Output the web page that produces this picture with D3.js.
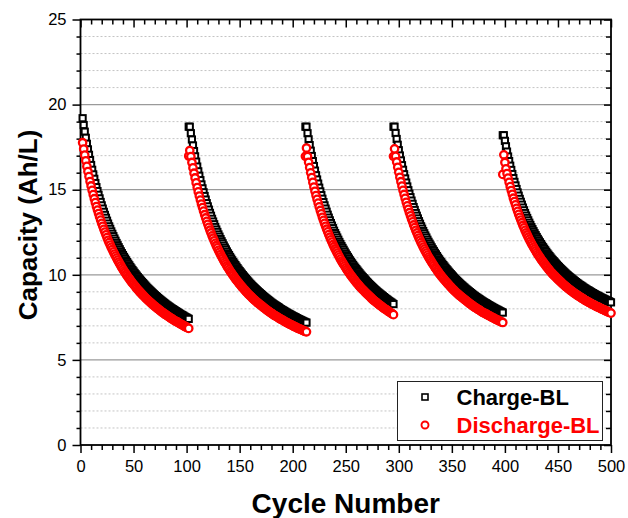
<!DOCTYPE html>
<html><head><meta charset="utf-8">
<script src="https://cdn.jsdelivr.net/npm/d3@7"></script>
<style>
html,body{margin:0;padding:0;background:#fff;}
svg{display:block;font-family:"Liberation Sans",Arial,sans-serif;}
</style></head>
<body><svg id="chart" width="628" height="518"></svg>
<script>
// ---- Data (one value per cycle) ----
const xTicks = [0,50,100,150,200,250,300,350,400,450,500];
const yTicks = [0,5,10,15,20,25];
const seriesNames = ["Charge-BL","Discharge-BL"];

// first cycle number of each of the five segments
const segStartCycles = [2, 102, 212, 295, 398];

const seg1Charge = [19.20,18.80,18.41,18.05,17.70,17.37,17.05,16.74,16.45,16.17,
15.90,15.64,15.39,15.15,14.92,14.70,14.49,14.28,14.08,13.89,13.70,13.52,13.35,13.18,13.01,12.85,12.70,12.55,12.41,12.27,
12.13,12.00,11.87,11.74,11.62,11.50,11.38,11.27,11.16,11.05,10.95,10.85,10.75,10.65,10.56,10.46,10.37,10.28,10.20,10.11,
10.03,9.95,9.87,9.79,9.72,9.65,9.58,9.51,9.44,9.37,9.30,9.23,9.17,9.11,9.05,8.99,8.93,8.87,8.81,8.75,
8.70,8.64,8.59,8.54,8.49,8.44,8.39,8.34,8.29,8.24,8.20,8.15,8.11,8.06,8.02,7.98,7.94,7.90,7.86,7.82,
7.78,7.74,7.70,7.66,7.63,7.59,7.55,7.51,7.48,7.44,7.41];
const seg1Discharge = [17.76,17.39,17.03,16.70,16.37,16.07,15.77,15.48,15.22,14.96,
14.71,14.47,14.24,14.01,13.80,13.60,13.40,13.21,13.02,12.85,12.67,12.51,12.35,12.19,12.03,11.89,11.75,11.61,11.48,11.35,
11.22,11.10,10.98,10.86,10.75,10.64,10.53,10.42,10.32,10.22,10.13,10.03,9.94,9.85,9.77,9.68,9.59,9.51,9.44,9.36,
9.28,9.20,9.13,9.06,8.99,8.92,8.86,8.79,8.73,8.66,8.60,8.54,8.48,8.42,8.37,8.31,8.26,8.20,8.15,8.10,
8.05,8.00,7.95,7.90,7.85,7.80,7.76,7.71,7.67,7.63,7.59,7.54,7.50,7.46,7.42,7.38,7.34,7.30,7.27,7.23,
7.20,7.16,7.12,7.09,7.06,7.02,6.98,6.95,6.92,6.88,6.85];

const seg2Charge = [18.70,
18.70,18.32,17.95,17.60,17.27,16.96,16.65,16.36,16.08,15.82,
15.56,15.31,15.08,14.85,14.63,14.42,14.21,14.02,13.83,13.64,13.47,13.29,13.13,12.97,12.81,12.66,12.52,12.37,12.24,12.10,
11.97,11.85,11.72,11.60,11.49,11.37,11.26,11.16,11.05,10.95,10.85,10.75,10.66,10.57,10.48,10.39,10.30,10.22,10.14,10.06,
9.98,9.90,9.83,9.75,9.68,9.61,9.54,9.47,9.41,9.34,9.28,9.22,9.16,9.10,9.04,8.98,8.93,8.87,8.82,8.76,
8.71,8.66,8.61,8.56,8.51,8.46,8.41,8.36,8.32,8.27,8.23,8.19,8.15,8.11,8.07,8.02,7.98,7.94,7.91,7.87,
7.83,7.79,7.76,7.72,7.69,7.65,7.62,7.58,7.55,7.52,7.49,7.45,7.42,7.39,7.36,7.33,7.30,7.27,7.24,7.21,7.19];
const seg2Discharge = [16.98,
17.30,16.95,16.60,16.28,15.97,15.69,15.40,15.13,14.87,14.63,
14.39,14.16,13.95,13.74,13.53,13.34,13.14,12.97,12.79,12.62,12.46,12.29,12.15,12.00,11.85,11.71,11.58,11.44,11.32,11.19,
11.07,10.96,10.84,10.73,10.63,10.52,10.42,10.32,10.22,10.13,10.04,9.95,9.86,9.77,9.69,9.61,9.53,9.45,9.38,9.30,
9.23,9.16,9.09,9.02,8.95,8.88,8.82,8.76,8.70,8.64,8.58,8.52,8.47,8.41,8.36,8.31,8.26,8.21,8.16,8.11,
8.06,8.01,7.96,7.91,7.87,7.82,7.78,7.74,7.70,7.65,7.61,7.57,7.54,7.50,7.46,7.42,7.38,7.35,7.32,7.28,
7.24,7.21,7.18,7.14,7.11,7.08,7.05,7.01,6.98,6.95,6.93,6.89,6.86,6.83,6.81,6.78,6.75,6.72,6.70,6.67,6.65];

const seg3Charge = [18.70,
18.70,18.32,17.96,17.62,17.29,16.98,16.68,16.39,16.12,15.85,
15.60,15.36,15.12,14.90,14.68,14.47,14.27,14.08,13.89,13.71,13.53,13.36,13.20,13.04,12.89,12.74,12.59,12.45,12.32,12.19,
12.06,11.93,11.81,11.69,11.58,11.47,11.36,11.25,11.15,11.05,10.95,10.85,10.76,10.67,10.58,10.49,10.41,10.33,10.25,10.17,
10.09,10.01,9.94,9.87,9.80,9.73,9.66,9.59,9.53,9.46,9.40,9.34,9.28,9.22,9.16,9.10,9.05,8.99,8.94,8.89,
8.84,8.79,8.74,8.69,8.64,8.59,8.55,8.50,8.45,8.41,8.37,8.32,8.28];
const seg3Discharge = [16.96,
17.45,16.95,16.61,16.30,15.99,15.71,15.43,15.16,14.91,14.66,
14.43,14.21,13.99,13.78,13.58,13.38,13.20,13.02,12.85,12.68,12.52,12.36,12.21,12.06,11.92,11.78,11.65,11.52,11.40,11.28,
11.16,11.04,10.92,10.81,10.71,10.61,10.51,10.41,10.31,10.22,10.13,10.04,9.95,9.87,9.79,9.71,9.63,9.55,9.48,9.40,
9.33,9.26,9.19,9.13,9.07,9.00,8.94,8.88,8.82,8.76,8.70,8.64,8.58,8.52,8.47,8.42,8.37,8.32,8.27,8.22,
8.18,8.13,8.08,8.03,7.99,7.95,7.91,7.86,7.82,7.78,7.74,7.70,7.66];

const seg4Charge = [18.70,
18.70,18.33,17.98,17.64,17.32,17.01,16.72,16.44,16.17,15.91,
15.66,15.42,15.19,14.97,14.76,14.56,14.36,14.17,13.98,13.81,13.63,13.47,13.31,13.15,13.00,12.85,12.71,12.57,12.44,12.31,
12.19,12.06,11.94,11.83,11.72,11.61,11.50,11.40,11.29,11.20,11.10,11.00,10.91,10.82,10.74,10.65,10.57,10.49,10.41,10.33,
10.26,10.18,10.11,10.04,9.97,9.90,9.83,9.76,9.70,9.64,9.58,9.52,9.46,9.40,9.35,9.29,9.24,9.18,9.13,9.08,
9.03,8.98,8.93,8.88,8.83,8.78,8.74,8.69,8.65,8.61,8.57,8.52,8.48,8.44,8.40,8.36,8.33,8.29,8.25,8.21,
8.18,8.14,8.11,8.07,8.04,8.00,7.97,7.94,7.91,7.87,7.84,7.81,7.78];
const seg4Discharge = [16.96,
17.40,16.96,16.63,16.32,16.02,15.73,15.47,15.21,14.96,14.72,
14.49,14.26,14.05,13.85,13.65,13.47,13.28,13.11,12.93,12.77,12.61,12.46,12.31,12.16,12.03,11.89,11.76,11.63,11.51,11.39,
11.28,11.16,11.04,10.94,10.84,10.74,10.64,10.55,10.44,10.36,10.27,10.18,10.09,10.01,9.93,9.85,9.78,9.70,9.63,9.56,
9.49,9.42,9.35,9.28,9.22,9.15,9.09,9.03,8.97,8.91,8.86,8.80,8.75,8.70,8.65,8.60,8.55,8.50,8.45,8.40,
8.35,8.30,8.26,8.21,8.17,8.12,8.08,8.04,8.00,7.96,7.93,7.88,7.84,7.80,7.77,7.74,7.71,7.67,7.63,7.60,
7.57,7.53,7.50,7.47,7.44,7.40,7.37,7.34,7.32,7.28,7.25,7.22,7.20];

const seg5Charge = [18.20,
18.20,17.87,17.55,17.24,16.95,16.68,16.41,16.16,15.92,15.68,
15.46,15.25,15.04,14.84,14.65,14.46,14.29,14.12,13.95,13.79,13.63,13.48,13.34,13.20,13.06,12.93,12.80,12.68,12.56,12.44,
12.33,12.22,12.11,12.01,11.91,11.81,11.71,11.62,11.53,11.44,11.35,11.26,11.18,11.10,11.02,10.94,10.87,10.80,10.73,10.66,
10.59,10.52,10.46,10.39,10.33,10.27,10.21,10.15,10.09,10.03,9.98,9.92,9.87,9.82,9.77,9.72,9.67,9.62,9.57,9.52,
9.48,9.43,9.39,9.35,9.31,9.26,9.22,9.18,9.14,9.10,9.07,9.03,8.99,8.95,8.92,8.88,8.85,8.81,8.78,8.75,
8.72,8.68,8.65,8.62,8.59,8.56,8.53,8.50,8.47,8.44,8.41,8.38];
const seg5Discharge = [15.90,
17.05,16.60,16.23,15.95,15.68,15.43,15.18,14.95,14.73,14.50,
14.30,14.11,13.91,13.73,13.55,13.38,13.22,13.06,12.90,12.76,12.61,12.47,12.34,12.21,12.08,11.96,11.84,11.73,11.62,11.51,
11.41,11.30,11.20,11.11,11.02,10.92,10.83,10.75,10.67,10.58,10.50,10.42,10.34,10.27,10.19,10.12,10.05,9.99,9.93,9.86,
9.80,9.74,9.68,9.62,9.56,9.50,9.44,9.39,9.33,9.28,9.23,9.18,9.13,9.08,9.04,8.99,8.94,8.90,8.85,8.81,
8.77,8.73,8.69,8.65,8.61,8.57,8.53,8.49,8.45,8.42,8.39,8.35,8.32,8.28,8.25,8.22,8.19,8.15,8.12,8.10,
8.07,8.03,8.00,7.97,7.95,7.92,7.89,7.86,7.83,7.80,7.78,7.75];

// ---- Build point lists ----
const chargeSegs = [seg1Charge, seg2Charge, seg3Charge, seg4Charge, seg5Charge];
const dischargeSegs = [seg1Discharge, seg2Discharge, seg3Discharge, seg4Discharge, seg5Discharge];
const chargePts = [], dischargePts = [];
chargeSegs.forEach((arr, s) => arr.forEach((v, i) => chargePts.push({x: segStartCycles[s] + i, y: v})));
dischargeSegs.forEach((arr, s) => arr.forEach((v, i) => dischargePts.push({x: segStartCycles[s] + i, y: v})));

// ---- Layout ----
const svg = d3.select("#chart");
const L = 80.5, R = 611, T = 19.5, B = 445;
const x = d3.scaleLinear().domain([0, 500]).range([L, R]);
const y = d3.scaleLinear().domain([0, 25]).range([B, T]);

// Grid lines
const minorY = d3.range(1, 25).filter(v => v % 5 !== 0);
const majorY = [5, 10, 15, 20];
svg.append("g").selectAll("line").data(minorY).join("line")
  .attr("x1", L).attr("x2", R).attr("y1", d => y(d)).attr("y2", d => y(d))
  .attr("stroke", "#c4c4c4").attr("stroke-width", 1).attr("stroke-dasharray", "2,2");
svg.append("g").selectAll("line").data(majorY).join("line")
  .attr("x1", L).attr("x2", R).attr("y1", d => y(d)).attr("y2", d => y(d))
  .attr("stroke", "#9a9a9a").attr("stroke-width", 1.2);

// Axes
const minorX = d3.range(0, 501, 10).filter(v => v % 50 !== 0);
const minorYall = d3.range(0, 26, 1).filter(v => v % 5 !== 0);
function styleAxis(g) {
  g.select(".domain").remove();
  g.selectAll(".tick line").attr("stroke", "#000").attr("stroke-width", 1.5);
  g.selectAll(".tick text").attr("fill", "#000").attr("font-size", "16.5px")
    .attr("font-family", "'Liberation Sans',Arial,sans-serif");
}
svg.append("g").attr("transform", `translate(0,${B})`)
  .call(d3.axisBottom(x).tickValues(xTicks).tickSize(8).tickPadding(7).tickFormat(d3.format("d")))
  .call(styleAxis);
svg.append("g").attr("transform", `translate(0,${B})`)
  .call(d3.axisBottom(x).tickValues(minorX).tickSize(5).tickFormat(""))
  .call(styleAxis);
svg.append("g").attr("transform", `translate(${L},0)`)
  .call(d3.axisLeft(y).tickValues(yTicks).tickSize(8).tickPadding(6).tickFormat(d3.format("d")))
  .call(styleAxis);
svg.append("g").attr("transform", `translate(${L},0)`)
  .call(d3.axisLeft(y).tickValues(minorYall).tickSize(4).tickFormat(""))
  .call(styleAxis);
svg.append("g").attr("transform", `translate(0,${T})`)
  .call(d3.axisBottom(x).tickValues(xTicks).tickSize(8).tickFormat(""))
  .call(styleAxis);
svg.append("g").attr("transform", `translate(0,${T})`)
  .call(d3.axisBottom(x).tickValues(minorX).tickSize(5).tickFormat(""))
  .call(styleAxis);
svg.append("g").attr("transform", `translate(${R},0)`)
  .call(d3.axisLeft(y).tickValues(yTicks).tickSize(7).tickFormat(""))
  .call(styleAxis);
svg.append("g").attr("transform", `translate(${R},0)`)
  .call(d3.axisLeft(y).tickValues(minorYall).tickSize(5).tickFormat(""))
  .call(styleAxis);

// Frame
svg.append("rect").attr("x", L).attr("y", T).attr("width", R - L).attr("height", B - T)
  .attr("fill", "none").attr("stroke", "#000").attr("stroke-width", 1.8);

// Markers
const sq = 6.2;
svg.append("g").selectAll("rect").data(chargePts).join("rect")
  .attr("x", d => x(d.x) - sq / 2).attr("y", d => y(d.y) - sq / 2)
  .attr("width", sq).attr("height", sq)
  .attr("fill", "#fff").attr("stroke", "#000").attr("stroke-width", 2);
svg.append("g").selectAll("circle").data(dischargePts).join("circle")
  .attr("cx", d => x(d.x)).attr("cy", d => y(d.y)).attr("r", 3.7)
  .attr("fill", "#fff").attr("stroke", "#ff0000").attr("stroke-width", 2.3);

// Axis titles
svg.append("text").attr("x", (L + R) / 2).attr("y", 513)
  .attr("text-anchor", "middle").attr("font-size", "28px").attr("font-weight", "bold")
  .text("Cycle Number");
svg.append("text").attr("transform", "translate(37,225) rotate(-90)")
  .attr("text-anchor", "middle").attr("font-size", "26px").attr("font-weight", "bold")
  .text("Capacity (Ah/L)");

// Legend
const lg = svg.append("g");
lg.append("rect").attr("x", 397.5).attr("y", 381.5).attr("width", 205).attr("height", 59)
  .attr("fill", "#fff").attr("stroke", "#222").attr("stroke-width", 1);
lg.append("rect").attr("x", 425 - 3).attr("y", 397 - 3).attr("width", 6).attr("height", 6)
  .attr("fill", "#fff").attr("stroke", "#000").attr("stroke-width", 1.6);
lg.append("circle").attr("cx", 425).attr("cy", 425).attr("r", 3.5)
  .attr("fill", "#fff").attr("stroke", "#ff0000").attr("stroke-width", 1.9);
lg.append("text").attr("x", 456.5).attr("y", 404.5).attr("font-size", "22px").attr("font-weight", "bold")
  .attr("fill", "#000").text(seriesNames[0]);
lg.append("text").attr("x", 456.5).attr("y", 432.5).attr("font-size", "22px").attr("font-weight", "bold")
  .attr("fill", "#ff0000").text(seriesNames[1]);
</script></body></html>
